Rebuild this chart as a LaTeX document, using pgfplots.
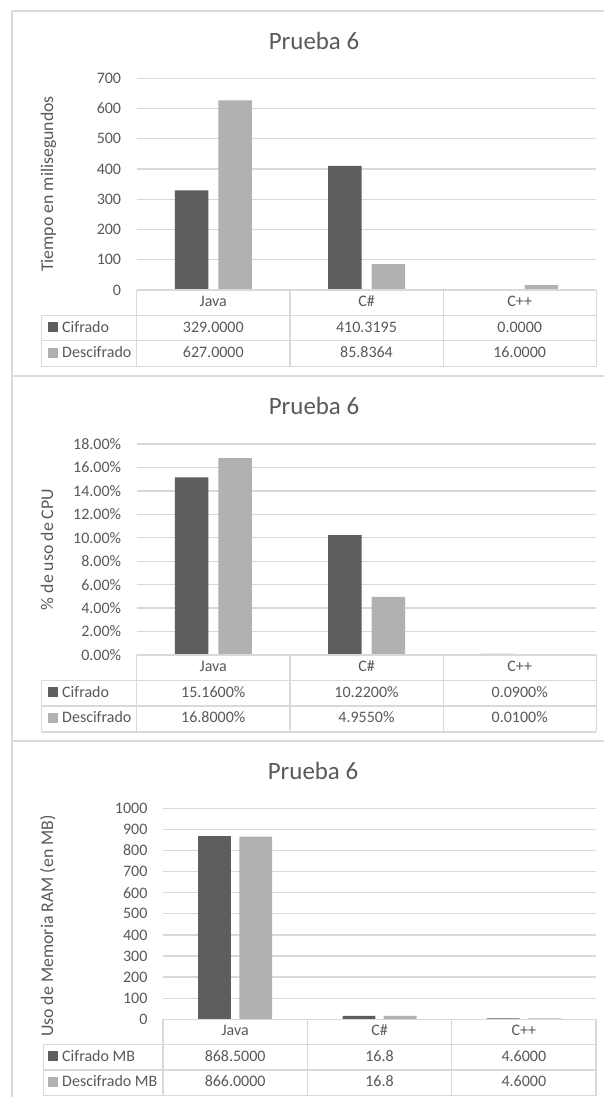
\documentclass[border=0pt]{standalone}
\usepackage{pgfplots}
\pgfplotsset{compat=1.18}
\usepackage{fontspec}
\setmainfont{Carlito}

\definecolor{barDark}{HTML}{5E5E5E}
\definecolor{barLight}{HTML}{B1B1B1}
\definecolor{gridGray}{HTML}{D9D9D9}
\definecolor{txtGray}{HTML}{595959}
\definecolor{frameGray}{HTML}{DADADA}

\newcommand{\tickfont}{\fontsize{16}{19}\selectfont}
\newcommand{\titlefont}{\fontsize{24.9}{29}\selectfont}
\newcommand{\labfont}{\fontsize{17.8}{21}\selectfont}

\pgfplotsset{
  excelbars/.style={
    scale only axis,
    anchor=south west,
    ybar=10pt, bar width=33.5pt,
    xmin=0.5, xmax=3.5, ymin=0,
    xtick={1,2,3}, xticklabels={Java, C\#, C++},
    axis line style={draw=none},
    major tick length=0pt,
    ymajorgrids, grid style={gridGray, line width=1.3pt},
    tick label style={font=\tickfont, text=txtGray},
    xticklabel style={anchor=base, inner sep=0pt, yshift=-16.5pt},
    yticklabel style={anchor=east, inner sep=0pt, xshift=-15.4pt},
    clip=false,
  },
  darkbar/.style={fill=barDark, draw=none},
  lightbar/.style={fill=barLight, draw=none},
}

% data table beneath a chart: #1 legend column left, #2..#5 column borders,
% #6..#9 row borders (top of header row down to bottom of table)
\newcommand{\datagrid}[9]{%
  \draw[gridGray, line width=1.2pt] (#2,#6) -- (#5,#6);
  \draw[gridGray, line width=1.2pt] (#1,#7) -- (#5,#7);
  \draw[gridGray, line width=1.2pt] (#1,#8) -- (#5,#8);
  \draw[gridGray, line width=1.2pt] (#1,#9) -- (#5,#9);
  \draw[gridGray, line width=1.2pt] (#1,#7) -- (#1,#9);
  \draw[gridGray, line width=1.2pt] (#2,#6) -- (#2,#9);
  \draw[gridGray, line width=1.2pt] (#3,#6) -- (#3,#9);
  \draw[gridGray, line width=1.2pt] (#4,#6) -- (#4,#9);
  \draw[gridGray, line width=1.2pt] (#5,#6) -- (#5,#9);
}
% legend entry in a table row: #1 baseline, #2 colour, #3 text
\newcommand{\legendcell}[3]{%
  \fill[#2] (48.3,#1) rectangle (58.3,#1+10);
  \node[anchor=base west, inner sep=0pt, font=\tickfont, text=txtGray] at (62,#1) {#3};
}
% three values of a row: #1 baseline, #2..#4 column centres, #5..#7 values
\newcommand{\valuerow}[7]{%
  \node[anchor=base, inner sep=0pt, font=\tickfont, text=txtGray] at (#2,#1) {#5};
  \node[anchor=base, inner sep=0pt, font=\tickfont, text=txtGray] at (#3,#1) {#6};
  \node[anchor=base, inner sep=0pt, font=\tickfont, text=txtGray] at (#4,#1) {#7};
}

\begin{document}
\begin{tikzpicture}[x=1pt, y=1pt]
\useasboundingbox (0,0) rectangle (604,1097);
\fill[white] (0,0) rectangle (604,1097);

% chart frames
\draw[frameGray, line width=2pt] (11.7,0) -- (11.7,1086);
\draw[frameGray, line width=2pt] (11.7,1086) -- (604,1086);
\draw[frameGray, line width=2pt] (11.7,721) -- (604,721);
\draw[frameGray, line width=2pt] (11.7,356) -- (604,356);

% ---------- time ----------
\begin{axis}[excelbars, at={(136.7pt,807pt)}, width=459.6pt, height=211.7pt,
  ymax=700, ytick={0,100,...,700},
  yticklabels={0,100,200,300,400,500,600,700}]
  \addplot[darkbar]  coordinates {(1,329.0000) (2,410.3195) (3,0.0000)};
  \addplot[lightbar] coordinates {(1,627.0000) (2,85.8364) (3,16.0000)};
\end{axis}
\node[anchor=base, inner sep=0pt, font=\titlefont, text=txtGray] at (314,1047.5) {Prueba 6};
\node[rotate=90, anchor=base, inner sep=0pt, font=\labfont, text=txtGray] at (53,913) {Tiempo en milisegundos};
\datagrid{41.6}{136.7}{289.9}{443.1}{596.3}{807}{781.8}{756.3}{730.3}
\legendcell{764.5}{barDark}{Cifrado}
\legendcell{739}{barLight}{Descifrado}
\valuerow{764.5}{213.3}{366.5}{519.7}{329.0000}{410.3195}{0.0000}
\valuerow{739}{213.3}{366.5}{519.7}{627.0000}{85.8364}{16.0000}

% ---------- CPU ----------
\begin{axis}[excelbars, at={(136.7pt,442pt)}, width=459.6pt, height=211pt,
  ymax=18, ytick={0,2,...,18},
  yticklabels={0.00\%,2.00\%,4.00\%,6.00\%,8.00\%,10.00\%,12.00\%,14.00\%,16.00\%,18.00\%}]
  \addplot[darkbar]  coordinates {(1,15.16) (2,10.22) (3,0.09)};
  \addplot[lightbar] coordinates {(1,16.80) (2,4.955) (3,0.01)};
\end{axis}
\node[anchor=base, inner sep=0pt, font=\titlefont, text=txtGray] at (314,682.5) {Prueba 6};
\node[rotate=90, anchor=base, inner sep=0pt, font=\labfont, text=txtGray] at (53,547.5) {\% de uso de CPU};
\datagrid{41.6}{136.7}{289.9}{443.1}{596.3}{442}{416.5}{391}{365}
\legendcell{399.5}{barDark}{Cifrado}
\legendcell{374}{barLight}{Descifrado}
\valuerow{399.5}{213.3}{366.5}{519.7}{15.1600\%}{10.2200\%}{0.0900\%}
\valuerow{374}{213.3}{366.5}{519.7}{16.8000\%}{4.9550\%}{0.0100\%}

% ---------- RAM ----------
\begin{axis}[excelbars, at={(163pt,77.7pt)}, width=433pt, height=211pt,
  bar width=32.8pt, ybar=8.4pt,
  ymax=1000, ytick={0,100,...,1000},
  yticklabels={0,100,200,300,400,500,600,700,800,900,1000}]
  \addplot[darkbar]  coordinates {(1,868.5) (2,16.8) (3,4.6)};
  \addplot[lightbar] coordinates {(1,866.0) (2,16.8) (3,4.6)};
\end{axis}
\node[anchor=base, inner sep=0pt, font=\titlefont, text=txtGray] at (313,317.5) {Prueba 6};
\node[rotate=90, anchor=base, inner sep=0pt, font=\labfont, text=txtGray] at (53,171) {Uso de Memoria RAM (en MB)};
\datagrid{43.3}{163}{307.3}{451.7}{596}{77.7}{52.7}{27}{1.3}
\legendcell{35.7}{barDark}{Cifrado MB}
\legendcell{10}{barLight}{Descifrado MB}
\valuerow{35.7}{235.15}{379.5}{523.85}{868.5000}{16.8}{4.6000}
\valuerow{10}{235.15}{379.5}{523.85}{866.0000}{16.8}{4.6000}
\end{tikzpicture}
\end{document}
